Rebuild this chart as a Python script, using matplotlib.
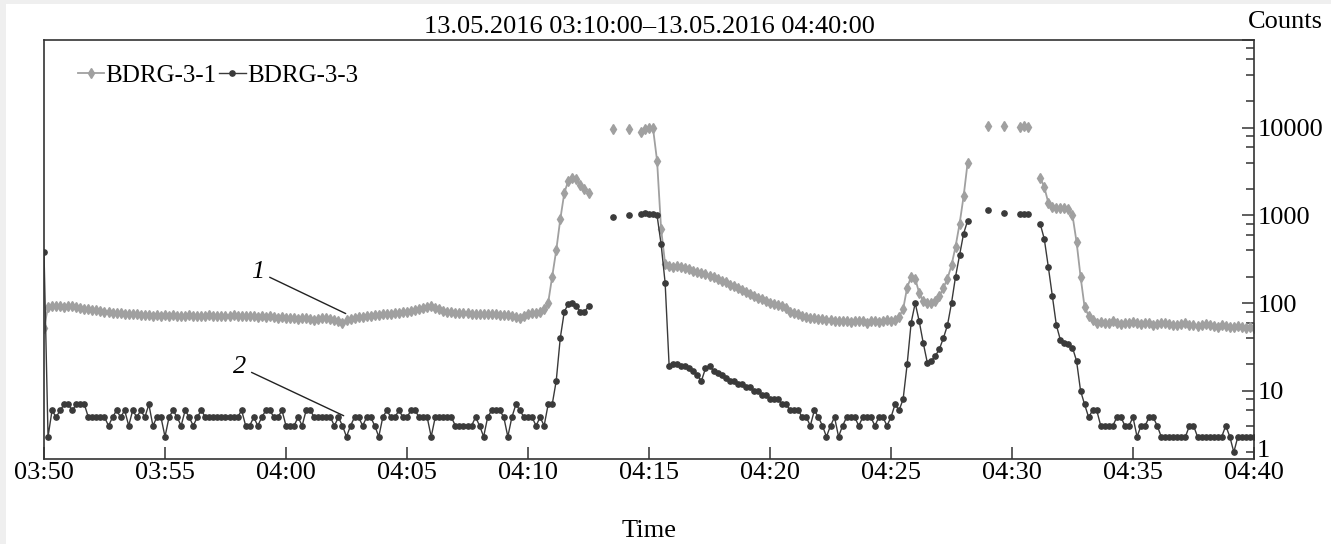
import numpy as np
import pandas as pd
import matplotlib
matplotlib.use("Agg")
import matplotlib.pyplot as plt
import matplotlib.dates as mdates
from matplotlib.ticker import LogLocator, FixedLocator, FuncFormatter, NullFormatter
from matplotlib.patches import Rectangle

nan = float("nan")

# 10-second samples from 03:50:00 to 04:40:00
times = pd.date_range("2016-05-13 03:50:00", periods=301, freq="10s")

bdrg_3_1 = [
    52,
    90, 92, 93, 92, 91, 93, 92, 90,
    88, 86, 85, 84, 83, 82,
    80, 79, 78, 78, 77, 76, 76, 75, 75, 74, 74,
    73, 72, 73, 72, 74, 72, 73, 72, 71, 72, 73, 72, 72, 71, 72, 73,
    72, 72, 71, 72, 72, 73, 72, 71, 72, 72, 71, 70, 71, 70, 71, 70,
    68, 69, 68, 67, 68, 66, 67, 68, 66, 65, 66, 67, 68, 66, 64, 62, 60,
    64, 66, 68, 70, 70, 71,
    72, 73, 74, 75, 75, 76, 77, 78, 79, 80, 82, 84,
    86, 88, 90, 92, 88, 85, 82,
    80, 79, 78, 78, 77, 77, 76, 76, 76, 75, 76, 75, 75, 74, 74, 73, 72, 70, 68,
    72, 76, 78, 77, 80,
    85,
    101, 200, 400, 900, 1800, 2500, 2700, 2600, 2200, 2000, 1800,
    nan, nan, nan, nan, nan,
    9600,
    nan, nan, nan,
    9600,
    nan, nan,
    9000, 9600, 10000, 9800,
    4200, 700, 280,
    265, 260, 262, 255, 250, 245, 232, 228, 222, 215, 205, 200, 190, 180, 172,
    162, 155, 150, 140, 135, 128, 120, 115, 112, 105, 100, 98, 95, 92, 88,
    80, 78, 75, 72, 70, 68, 67, 66, 66, 64, 65, 63, 62, 63, 62,
    61, 62, 63, 62, 60, 62, 63, 61, 62, 64, 63, 65, 70, 85, 150,
    200, 190, 130, 105, 100, 100, 105, 120, 150, 190, 270, 440, 800, 1650, 4000,
    nan, nan, nan, nan,
    10400,
    nan, nan, nan,
    10400,
    nan, nan, nan,
    10300, 10500, 10300,
    nan, nan,
    2700, 2100, 1400, 1250, 1200, 1200, 1200, 1180, 1000, 500, 200, 90, 72, 64,
    60, 61, 59, 60, 62, 60, 58, 59, 60, 61, 59, 58, 60, 59, 57, 58, 60, 59, 58, 56,
    57, 58, 59, 57, 56, 55, 57, 58, 56, 55, 54, 56, 55, 53, 54, 55, 53, 52, 54, 52,
]

bdrg_3_3 = [
    380,
    3,
    6, 5, 6, 7, 7, 6, 7, 7, 7,
    5, 5, 5, 5, 5,
    4, 5, 6, 5, 6, 4, 6, 5, 6, 5,
    7, 4, 5, 5,
    3,
    5, 6, 5, 4, 6, 5, 4, 5,
    6, 5, 5, 5, 5, 5, 5, 5, 5, 5, 6,
    4, 4, 5, 4,
    5, 6, 6, 5,
    5, 6, 4,
    4, 4, 5, 4,
    6, 6, 5, 5,
    5, 5, 5, 4, 5,
    4, 3, 4, 5,
    5, 4, 5, 5, 4,
    3,
    5, 6, 5, 5, 6, 5, 5, 6, 6, 5, 5, 5,
    3,
    5, 5, 5, 5, 5, 4, 4, 4, 4, 4, 5,
    4, 3,
    5, 6, 6, 6, 5, 3,
    5, 7, 6, 5,
    5, 5, 4, 5, 4,
    7, 7, 13, 40, 80, 98, 100, 92, 80, 80, 92,
    nan, nan, nan, nan, nan,
    970,
    nan, nan, nan,
    1000,
    nan, nan,
    1050, 1060, 1050, 1050,
    1000, 470, 170,
    19, 20, 20, 19, 19, 18, 17, 15, 13, 18, 19, 17, 16, 15, 14,
    13, 13, 12, 12, 11, 11, 10, 10, 9, 9, 8, 8, 8, 7, 7,
    6, 6, 6, 5, 5, 4, 6, 5, 4, 3, 4, 5, 3, 4, 5,
    5, 5, 4, 5, 5, 5, 4, 5, 5, 4, 5, 7, 6, 8, 20,
    60, 100, 62, 35, 21, 22, 25, 30, 40, 56, 100, 200, 350, 620, 870,
    nan, nan, nan, nan,
    1150,
    nan, nan, nan,
    1060,
    nan, nan, nan,
    1030, 1040, 1030,
    nan, nan,
    800, 540, 260, 120, 56, 38, 35, 34, 31, 22, 10, 7, 5, 6,
    6, 4, 4, 4, 4, 5, 5, 4, 4, 5, 3, 4, 4, 5, 5, 4, 3, 3, 3, 3,
    3, 3, 3, 4, 4, 3, 3, 3, 3, 3, 3, 3, 4, 3, 2, 3, 3, 3, 3, 3,
]

series_names = ["BDRG-3-1", "BDRG-3-3"]
series_colors = ["#a0a0a0", "#3a3a3a"]
y_major = [10, 100, 1000, 10000, 100000]
title_text = "13.05.2016 03:10:00\u201313.05.2016 04:40:00"

FS = 19
plt.rcParams["font.family"] = ["Liberation Serif", "DejaVu Serif"]
plt.rcParams["font.size"] = FS

W, H = 1331, 544
fig = plt.figure(figsize=(W / 100, H / 100), dpi=100)
fig.patch.set_facecolor("white")
# light frame strips along the top and left edges
fig.add_artist(Rectangle((0, 1 - 4 / H), 1, 4 / H, transform=fig.transFigure,
                         facecolor="#efefef", edgecolor="none"))
fig.add_artist(Rectangle((0, 0), 6 / W, 1, transform=fig.transFigure,
                         facecolor="#efefef", edgecolor="none"))

left, right, top, bottom = 44, 1254, 40, 459
ax = fig.add_axes([left / W, 1 - bottom / H, (right - left) / W, (bottom - top) / H])

l1, = ax.plot(times, bdrg_3_1, color=series_colors[0], lw=1.3, marker="d",
              ms=4.8, mec=series_colors[0], mfc=series_colors[0], label=series_names[0])
l2, = ax.plot(times, bdrg_3_3, color=series_colors[1], lw=1.0, marker="o",
              ms=3.8, mec=series_colors[1], mfc=series_colors[1], label=series_names[1])

ax.set_yscale("log")
ax.set_ylim(1.67, 1e5)
ax.set_xlim(pd.Timestamp("2016-05-13 03:50:00"), pd.Timestamp("2016-05-13 04:40:00"))

ax.xaxis.set_major_locator(mdates.MinuteLocator(byminute=range(0, 60, 5)))
ax.xaxis.set_major_formatter(mdates.DateFormatter("%H:%M"))

ax.yaxis.set_ticks_position("right")
ax.yaxis.set_label_position("right")
ax.yaxis.set_major_locator(FixedLocator(y_major))
ax.yaxis.set_major_formatter(FuncFormatter(lambda v, p: f"{int(v)}" if v < 1e5 else ""))
ax.yaxis.set_minor_locator(LogLocator(base=10, subs=(2, 4, 6, 8)))
ax.yaxis.set_minor_formatter(NullFormatter())

frame_color = "#333333"
for s in ax.spines.values():
    s.set_color(frame_color)
    s.set_linewidth(1.2)
ax.tick_params(axis="x", which="major", direction="in", length=9, width=1.1,
               color=frame_color, pad=2, labelsize=FS, top=False)
ax.tick_params(axis="y", which="major", direction="in", length=9, width=1.1,
               color=frame_color, pad=3, labelsize=FS, left=False)
ax.tick_params(axis="y", which="minor", direction="in", length=6, width=1.1,
               color=frame_color, left=False)

ax.annotate("1", xy=(1, 0), xycoords="axes fraction", xytext=(2, -2),
            textcoords="offset points", ha="left", va="bottom", fontsize=FS)

ax.set_title(title_text, fontsize=FS, pad=5)
fig.text(1323 / W, 1 - 22 / H, "Counts", ha="right", va="center", fontsize=FS)
ax.set_xlabel("Time", fontsize=FS, labelpad=26)

ax.legend(handles=[l1, l2], loc="upper left", bbox_to_anchor=(0.02, 0.965),
          ncol=2, frameon=False, handlelength=1.05, handletextpad=0.05,
          columnspacing=0.1, borderaxespad=0, fontsize=18)

# curve labels
ax.annotate("1", xy=(pd.Timestamp("2016-05-13 04:02:28"), 76),
            xytext=(pd.Timestamp("2016-05-13 03:58:50"), 229),
            fontstyle="italic", fontsize=FS, ha="center", va="center",
            arrowprops=dict(arrowstyle="-", color="#222222", lw=1.0, shrinkA=2, shrinkB=0))
ax.annotate("2", xy=(pd.Timestamp("2016-05-13 04:02:23"), 5.2),
            xytext=(pd.Timestamp("2016-05-13 03:58:05"), 18.8),
            fontstyle="italic", fontsize=FS, ha="center", va="center",
            arrowprops=dict(arrowstyle="-", color="#222222", lw=1.0, shrinkA=2, shrinkB=0))

fig.savefig("out.png", dpi=100)
